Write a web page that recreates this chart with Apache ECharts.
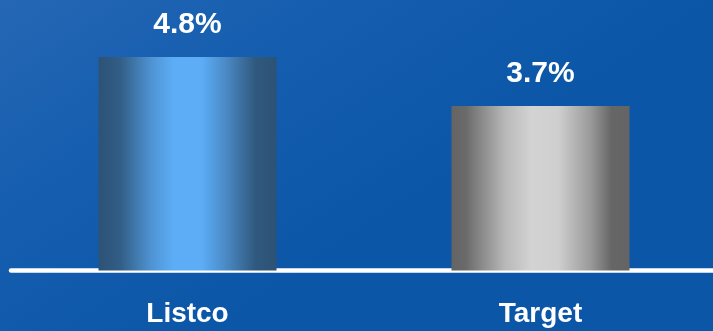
<!DOCTYPE html>
<html>
<head>
<meta charset="utf-8">
<script src="https://cdn.jsdelivr.net/npm/echarts@6/dist/echarts.min.js"></script>
<style>
html,body{margin:0;padding:0;background:#1560b0;overflow:hidden;width:713px;height:331px;}
#chart{width:720px;height:331px;}
</style>
</head>
<body>
<div id="chart"></div>
<script>
const categories = ['Listco', 'Target'];
const values = [4.8, 3.7];
const valueSuffix = '%';

const blueBar = new echarts.graphic.LinearGradient(0, 0, 1, 0, [
  {offset: 0, color: '#2d5275'},
  {offset: 0.12, color: '#325d86'},
  {offset: 0.3, color: '#4f94d4'},
  {offset: 0.42, color: '#5cadf6'},
  {offset: 0.58, color: '#5cadf6'},
  {offset: 0.72, color: '#4a88c4'},
  {offset: 0.88, color: '#30597f'},
  {offset: 1, color: '#2d5275'}
]);
const greyBar = new echarts.graphic.LinearGradient(0, 0, 1, 0, [
  {offset: 0, color: '#646464'},
  {offset: 0.08, color: '#6a6a6a'},
  {offset: 0.3, color: '#b8b8b8'},
  {offset: 0.45, color: '#d3d3d3'},
  {offset: 0.6, color: '#cfcfcf'},
  {offset: 0.78, color: '#9a9a9a'},
  {offset: 0.9, color: '#666666'},
  {offset: 1, color: '#646464'}
]);
const fills = [blueBar, greyBar];

const chart = echarts.init(document.getElementById('chart'), null, {renderer: 'canvas'});
chart.setOption({
  animation: false,
  backgroundColor: new echarts.graphic.LinearGradient(0, 0, 0.3, 1, [
    {offset: 0, color: '#2567b4'},
    {offset: 0.5, color: '#145daf'},
    {offset: 1, color: '#0c56a8'}
  ]),
  grid: {left: 11, width: 706, top: 3.6, bottom: 60.5},
  xAxis: {
    type: 'category',
    data: categories,
    axisLine: {show: true, lineStyle: {color: '#ffffff', width: 4.5, cap: 'round'}},
    axisTick: {show: false},
    axisLabel: {
      color: '#ffffff',
      fontSize: 28,
      fontWeight: 'bold',
      fontFamily: 'Liberation Sans, Arial, sans-serif',
      margin: 30
    }
  },
  yAxis: {
    type: 'value',
    min: 0,
    max: 6,
    show: false,
    splitLine: {show: false}
  },
  series: [{
    type: 'bar',
    barWidth: 178,
    data: values.map((v, i) => ({value: v, itemStyle: {color: fills[i]}})),
    label: {
      show: true,
      position: 'top',
      distance: 17,
      color: '#ffffff',
      fontSize: 30,
      fontWeight: 'bold',
      fontFamily: 'Liberation Sans, Arial, sans-serif',
      formatter: p => p.value.toFixed(1) + valueSuffix
    },
    z: 1
  }]
});
</script>
</body>
</html>
